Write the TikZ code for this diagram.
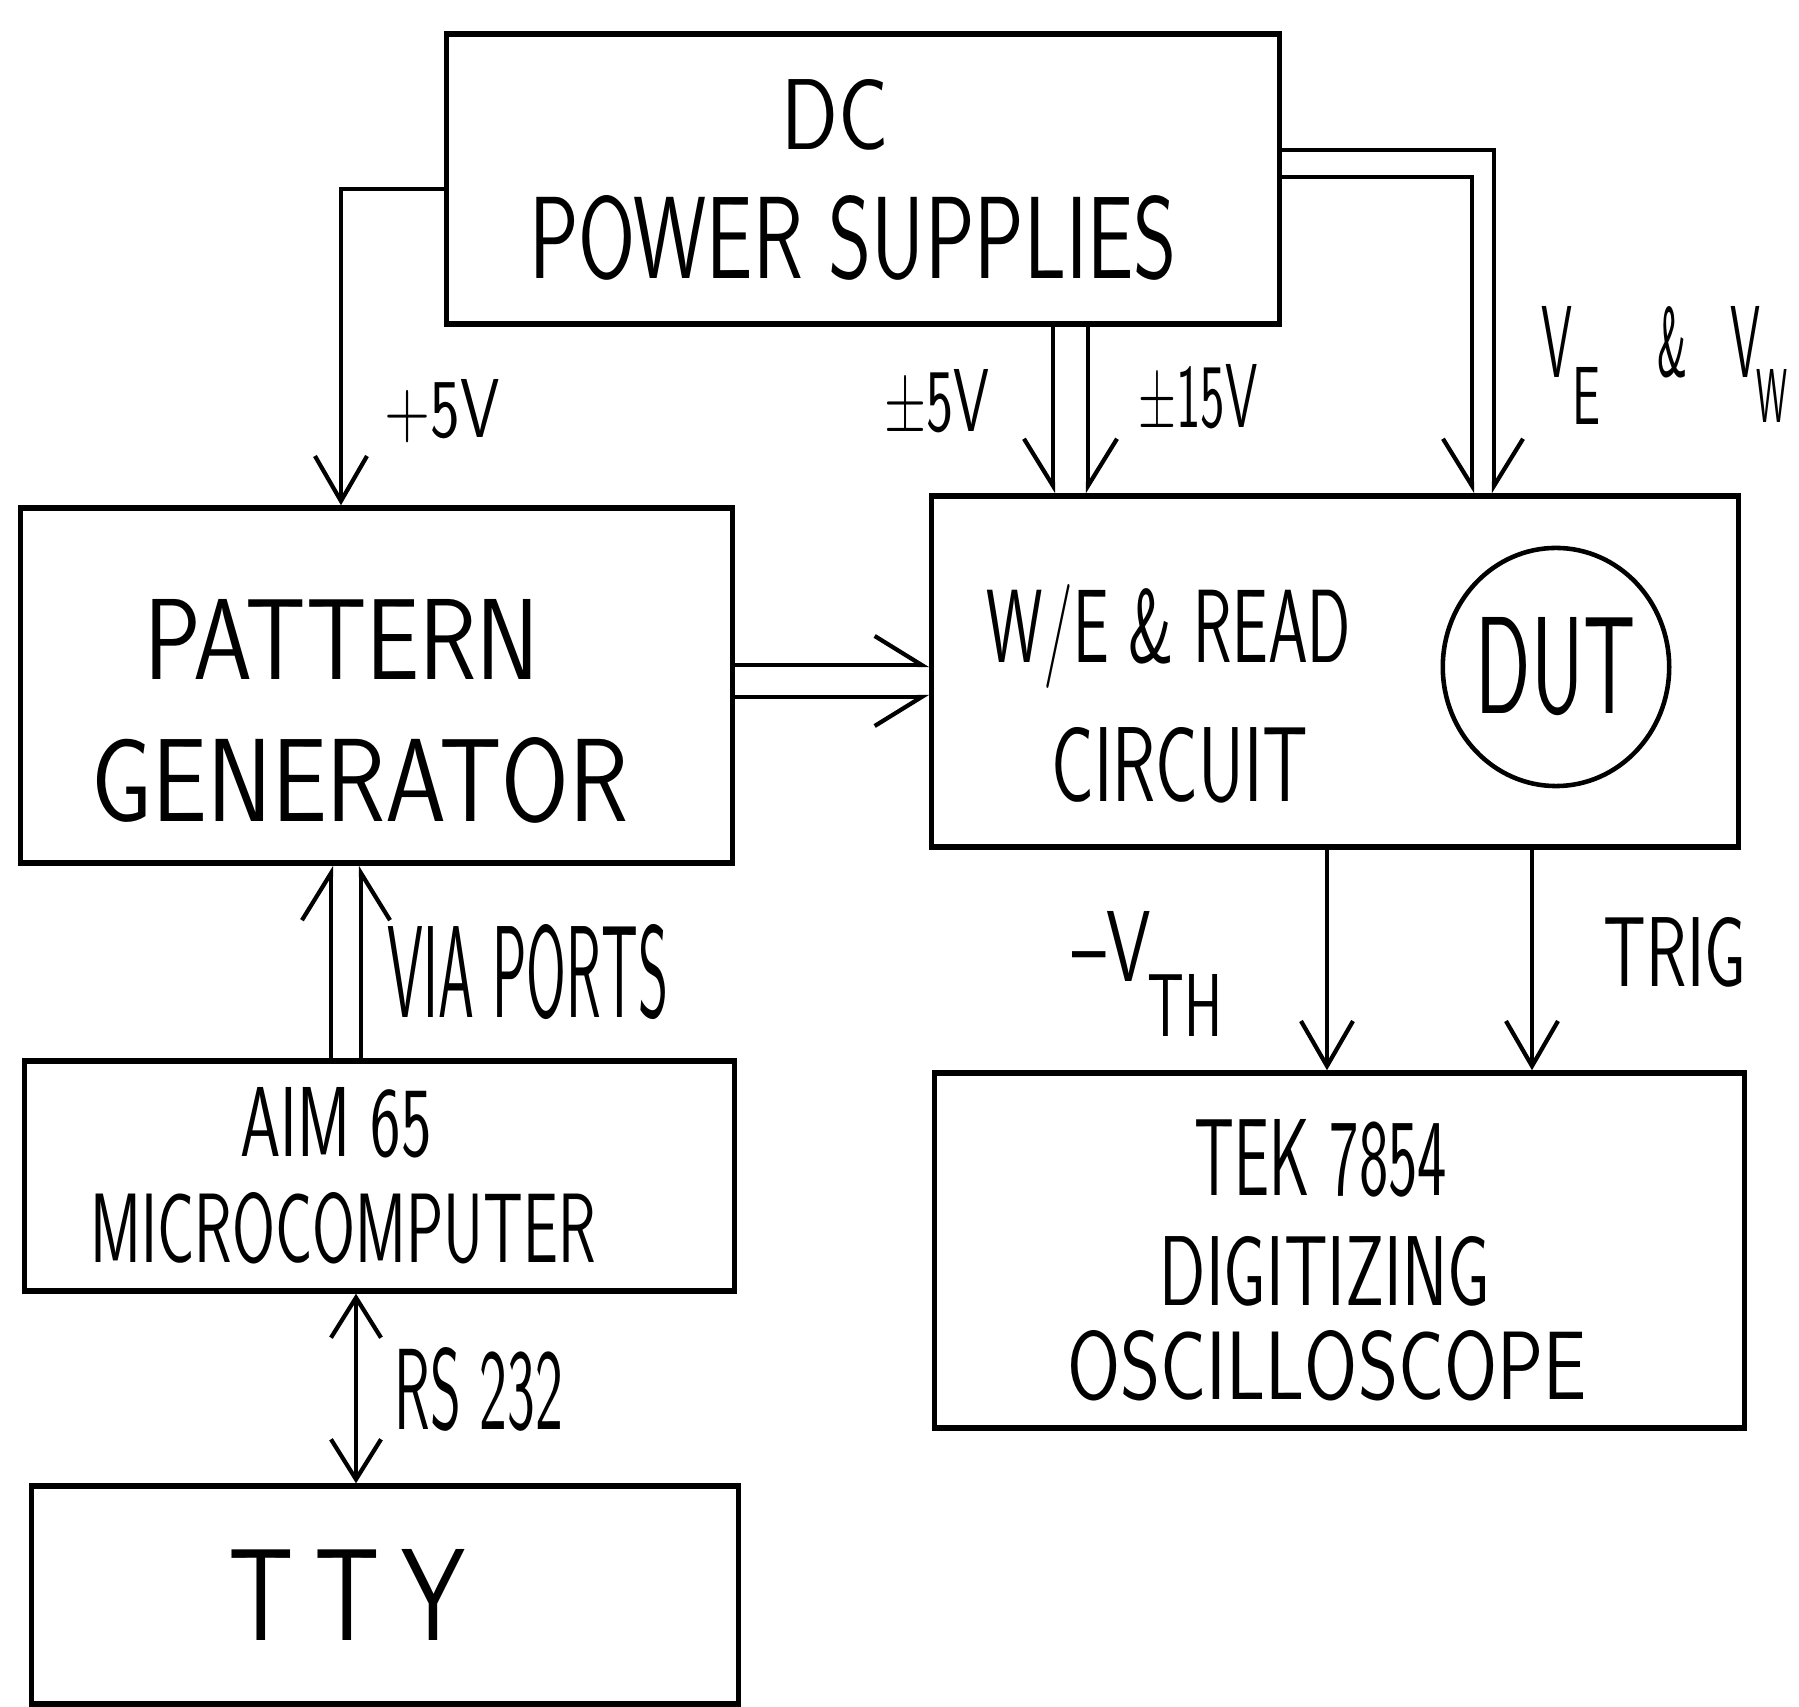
\documentclass[tikz,border=0pt]{standalone}
\usepackage{graphicx}
\usetikzlibrary{arrows.meta,shapes.geometric}
\tikzset{
  box/.style={draw,line width=1.5pt,inner sep=0pt},
  dutring/.style={draw,ellipse,line width=1.3pt,inner sep=0pt,
    minimum width=2.26cm,minimum height=2.38cm},
  lbl/.style={inner sep=0pt,anchor=base,font=\sffamily\fontsize{20}{24}\selectfont},
  feed/.style={line width=1.2pt,-{Straight Barb[length=0.45cm,width=0.52cm]}},
  both/.style={line width=1.2pt,
    {Straight Barb[length=0.4cm,width=0.5cm]}-{Straight Barb[length=0.4cm,width=0.5cm]}},
  halfL/.style={line width=1.2pt,-{Straight Barb[left,length=0.47cm,width=0.58cm]}},
  halfR/.style={line width=1.2pt,-{Straight Barb[right,length=0.47cm,width=0.58cm]}}
}

\begin{document}
\begin{tikzpicture}[x=0.01cm,y=-0.01cm]
\useasboundingbox (0,0) rectangle (1799,1707);

% blocks
\node[box,minimum width=8.32cm,minimum height=2.90cm] (dc) at (863,179) {};
\node[box,minimum width=7.11cm,minimum height=3.55cm] (pg) at (376.5,685.5) {};
\node[box,minimum width=8.06cm,minimum height=3.51cm] (we) at (1335,671.5) {};
\node[box,minimum width=7.09cm,minimum height=2.30cm] (aim) at (379.5,1176) {};
\node[box,minimum width=7.06cm,minimum height=2.18cm] (tty) at (385,1595) {};
\node[box,minimum width=8.09cm,minimum height=3.55cm] (tek) at (1339.5,1250.5) {};
\node[dutring] (dut) at (1556,667)
  {\sffamily\fontsize{20}{24}\selectfont\resizebox{1.60cm}{0.96cm}{DUT}};

% block texts
\node[lbl] (dcA) at (835,150) {\resizebox{1.07cm}{0.70cm}{DC}};
\node[lbl] (dcB) at (853,279) {\resizebox{6.47cm}{0.83cm}{POWER SUPPLIES}};
\node[lbl] (pgA) at (342,680) {\resizebox{3.95cm}{0.80cm}{PATTERN}};
\node[lbl] (pgB) at (360,822) {\resizebox{5.37cm}{0.84cm}{GENERATOR}};
\node[lbl] (weA) at (1169,663) {\resizebox{3.64cm}{0.78cm}{W/E \& READ}};
\node[lbl] (weB) at (1180,802) {\resizebox{2.57cm}{0.74cm}{CIRCUIT}};
\node[lbl] (aimA) at (336,1157) {\resizebox{1.91cm}{0.69cm}{AIM 65}};
\node[lbl] (aimB) at (343,1263) {\resizebox{5.05cm}{0.70cm}{MICROCOMPUTER}};
\node[lbl] (ttyA) at (347,1641) {\resizebox{2.36cm}{0.91cm}{T\hspace{0.2em}T\hspace{0.2em}Y}};
\node[lbl] (tekA) at (1321,1196) {\resizebox{2.52cm}{0.76cm}{TEK 7854}};
\node[lbl] (tekB) at (1325,1306) {\resizebox{3.30cm}{0.69cm}{DIGITIZING}};
\node[lbl] (tekC) at (1327,1400) {\resizebox{5.19cm}{0.69cm}{OSCILLOSCOPE}};

% supply lines
\draw[feed] ([yshift=-0.1cm]dc.west) -| ([xshift=-0.355cm]pg.north);
\draw[halfR] (dc.south -| 1053,0) -- (we.north -| 1053,0);
\draw[halfL] (dc.south -| 1088,0) -- (we.north -| 1088,0);
\draw[halfL] ([yshift=0.29cm]dc.east) -| (we.north -| 1494,0);
\draw[halfR] ([yshift=0.02cm]dc.east) -| (we.north -| 1472,0);

\node[lbl] (p5) at (442,438) {\resizebox{1.15cm}{0.58cm}{+5V}};
\node[lbl] (pm5) at (937,432) {\resizebox{1.05cm}{0.62cm}{±5V}};
\node[lbl] (pm15) at (1198,428) {\resizebox{1.19cm}{0.63cm}{±15V}};
\node[lbl] (veV) at (1557,378) {\resizebox{0.31cm}{0.71cm}{V}};
\node[lbl] (veE) at (1586,425) {\resizebox{0.28cm}{0.57cm}{E}};
\node[lbl] (veAmp) at (1672,377) {\resizebox{0.30cm}{0.70cm}{\&}};
\node[lbl] (vwV) at (1745,378) {\resizebox{0.30cm}{0.71cm}{V}};
\node[lbl] (vwW) at (1772,423) {\resizebox{0.31cm}{0.53cm}{W}};

% data paths
\draw[halfL] (pg.east |- 0,665) -- (we.west |- 0,665);
\draw[halfR] (pg.east |- 0,697) -- (we.west |- 0,697);
\draw[halfL] (aim.north -| 331,0) -- (pg.south -| 331,0);
\draw[halfR] (aim.north -| 361,0) -- (pg.south -| 361,0);
\draw[both] (aim.south -| 356,0) -- (tty.north -| 356,0);

\node[lbl] (via) at (528,1018) {\resizebox{2.80cm}{0.93cm}{VIA PORTS}};
\node[lbl] (rs) at (479,1430) {\resizebox{1.68cm}{0.82cm}{RS 232}};

% scope inputs
\draw[feed] (we.south -| 1327,0) -- (tek.north -| 1327,0);
\draw[feed] (we.south -| 1532,0) -- (tek.north -| 1532,0);

\node[lbl] (vth) at (1112,982) {\resizebox{0.78cm}{0.70cm}{\textendash V}};
\node[lbl] (vthB) at (1185,1037) {\resizebox{0.75cm}{0.62cm}{TH}};
\node[lbl] (trig) at (1675,987) {\resizebox{1.42cm}{0.69cm}{TRIG}};

\end{tikzpicture}
\end{document}
